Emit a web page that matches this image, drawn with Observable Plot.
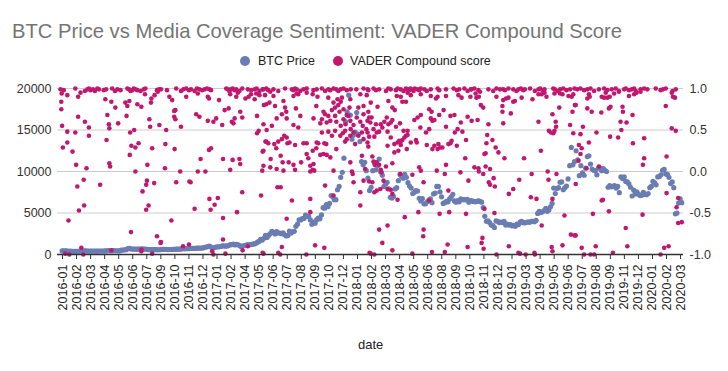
<!DOCTYPE html>
<html>
<head>
<meta charset="utf-8">
<script src="https://cdn.jsdelivr.net/npm/d3@7"></script>
<script src="https://cdn.jsdelivr.net/npm/@observablehq/plot@0.6"></script>
<style>
  html, body { margin: 0; padding: 0; background: #fff; }
  #wrap { position: relative; width: 728px; height: 371px; overflow: hidden; font-family: "Liberation Sans", Arial, sans-serif; }
  #title { position: absolute; left: 12px; top: 20px; font-size: 20.2px; color: #757575; white-space: nowrap; }
  .leg { position: absolute; top: 54px; font-size: 12.5px; color: #222; white-space: nowrap; }
  .sw { position: absolute; top: 56px; width: 10px; height: 10px; border-radius: 50%; }
  #xlabel { position: absolute; top: 337px; left: 358px; font-size: 13px; color: #222; }
  #chart { position: absolute; left: 0; top: 0; }
</style>
</head>
<body>
<div id="wrap">
  <div id="chart"></div>
  <div id="title">BTC Price vs Media Coverage Sentiment: VADER Compound Score</div>
  <div class="sw" style="left:240px;background:#6a7db3"></div>
  <div class="leg" style="left:258px">BTC Price</div>
  <div class="sw" style="left:333px;background:#c2176f"></div>
  <div class="leg" style="left:350px">VADER Compound score</div>
  <div id="xlabel">date</div>
</div>
<script>
// ---- Data ----
const seriesStart = "2016-01-01";
const xTickLabels = ["2016-01","2016-02","2016-03","2016-04","2016-05","2016-06","2016-07","2016-09","2016-10","2016-11","2016-12",
  "2017-01","2017-02","2017-04","2017-05","2017-06","2017-07","2017-08","2017-09","2017-10","2017-12",
  "2018-01","2018-02","2018-03","2018-04","2018-05","2018-06","2018-08","2018-09","2018-10","2018-11","2018-12",
  "2019-01","2019-03","2019-04","2019-05","2019-06","2019-07","2019-08","2019-09","2019-11","2019-12",
  "2020-01","2020-02","2020-03"];
const leftTicks = [0, 5000, 10000, 15000, 20000];
const rightTickLabels = ["-1.0", "-0.5", "0.0", "0.5", "1.0"];

// BTC price (USD), one reading every 4 days starting 2016-01-01
const btc2016 = [434,433,449,432,387,410,392,379,374,377,383,406,422,438,432,435,397,413,413,417,412,417,416,420,422,421,424,428,446,466,
  448,446,458,454,454,442,445,526,536,574,574,700,750,667,665,640,660,640,650,665,672,655,655,624,578,591,587,581,581,579,
  573,572,610,623,608,607,597,601,605,610,617,641,638,636,657,682,700,703,711,705,744,730,739,735,772,759,773,780,790,864,896,960];
const btc2017 = [1020,895,780,820,900,925,920,965,1035,1055,1000,1035,1080,1180,1190,1265,1150,1230,1175,1050,935,1045,1085,1130,1190,1170,1200,1250,1280,1350,
  1480,1580,1820,1740,1960,2300,2050,2330,2520,2800,2660,2480,2760,2590,2580,2500,2610,2380,2230,2300,2830,2580,2740,2800,3400,3650,4180,4160,4320,4350,
  4750,4600,4600,4160,3630,3900,3780,4200,4400,4300,4770,5640,5580,6000,5750,6150,7100,6950,6600,6600,7800,8200,9300,9900,11600,16000,17200,19200,16800,13900,14400];
const btc2018 = [14750,17100,14500,13600,11200,10800,11100,10100,9200,7700,8100,10100,11100,10200,10700,11500,9950,9550,8200,8500,8700,7900,6900,6800,7000,7900,8050,8900,9650,9400,
  9200,9650,9300,8650,8250,8000,7350,7500,7700,7650,6780,6450,6750,6100,6100,6350,6550,6700,6250,7300,7400,8200,8200,7550,6950,6150,6250,6400,6350,6700,
  6950,7250,6450,6300,6500,6350,6700,6600,6600,6590,6650,6300,6500,6450,6400,6350,6400,6450,6400,6300,5650,4600,4000,4050,3850,3550,3480,3250,4050,4000,3850];
const btc2019 = [3900,3850,4000,3550,3650,3550,3600,3450,3500,3400,3650,3600,3900,3980,3830,3820,3880,3920,3880,4000,3990,3950,4100,4950,5200,5050,5150,5300,5550,5200,
  5350,5750,6150,8000,7350,7950,8050,8700,8750,7800,8050,8250,9100,10700,12900,10800,11200,12500,11400,9500,10700,9850,9550,10400,11800,11900,10900,10300,10150,10100,
  9600,10400,10400,10100,10350,10150,10000,8100,8300,8150,8200,8300,8000,8200,7450,9350,9150,9350,8800,8750,8500,8100,7050,7750,7300,7550,7250,7100,7150,7500,7250,7200];
const btc2020 = [7350,8050,8200,8800,8650,8400,9350,9400,9600,10150,10250,9700,9650,9300,8550,8750,8050,4900,5000,6200,6700,6250];

// VADER compound score per article: [day offset from 2016-01-01, score]
const vader2016 = [
  [-4,.99],[4,.98],[33,1],[57,.97],[63,.99],[67,1],[71,.98],[77,.99],[82,.97],[88,1],[92,.99],[104,.98],[110,.99],[125,1],[132,.97],[138,.99],[146,.98],[163,1],[167,.99],[171,.97],[175,.98],[179,1],[183,.99],[188,.98],[196,.97],[204,.99],[208,1],[237,.98],[242,.99],
  [247,.99],[262,.98],[285,1],[297,.97],[303,.99],[310,1],[317,.98],[322,.99],[331,.97],[337,1],[343,.99],[350,.98],[356,.99],[362,1],
  [-1,.94],[13,.92],[46,.95],[40,.90],[-2,.84],[-2,.75],[108,.87],[123,.84],[133,.77],[158,.83],[163,.79],[168,.85],[188,.81],[198,.78],[207,.93],[223,.88],[222,.83],[231,.92],[239,.96],
  [40,.66],[57,.60],[67,.53],[0,.55],[113,.68],[117,.57],[118,.52],[140,.58],[161,.67],[218,.63],[220,.54],[243,.56],
  [13,.48],[33,.47],[67,.43],[170,.47],[180,.50],
  [111,.38],[13,.35],[2,.29],[26,.24],[173,.31],[183,.29],[191,.34],[225,.28],[169,.20],
  [35,.08],[61,.04],[118,.10],[120,.06],[183,0],[213,.08],
  [54,-.10],[38,-.18],[95,-.16],[212,-.11],[210,-.16],[230,-.14],[201,-.24],
  [55,-.41],[42,-.47],[216,-.41],[210,-.46],
  [16,-.59],[172,-.73],[237,-.78],[246,-.86],
  [48,-.92],[123,-.95],[198,-.94],[198,-.96],[8,-.99],[18,-1],[53,-1],[225,-.99],
  [268,.90],[275,.86],[310,.90],[339,.94],[364,.90],
  [283,.74],[280,.73],[280,.66],[283,.63],[335,.69],[343,.66],[364,.61],
  [297,.54],[260,.50],[258,.33],[281,.27],
  [346,.15],[257,.04],[295,0],[339,0],[358,0],
  [285,-.13],[318,-.12],[321,-.13],[331,-.45],[273,-.59],
  [247,-.85],[302,-.90],[317,-.88]
];
const vader2017 = [
  [368,.99],[372,.98],[410,1],[414,.99],[418,.97],[422,.99],[426,1],[431,.98],[435,.99],[443,.97],[450,1],[464,.99],[472,.98],[481,.99],[486,1],[493,.97],[501,.99],
  [503,.99],[510,1],[515,.98],[528,.99],[540,.97],[557,1],[574,.99],[578,.98],[582,1],[586,.99],[595,.97],[603,.99],[611,1],[628,.98],[636,.99],[649,1],[657,.97],[665,.99],[670,.98],[678,1],[685,.99],[690,.97],[696,.99],[703,1],[711,.98],[721,.99],
  [367,.88],[392,.86],[420,.93],[435,.90],[439,.95],[458,.88],[466,.90],[472,.93],[481,.87],[485,.94],[493,.92],[504,.80],
  [378,.60],[385,.64],[400,.56],[406,.74],[416,.76],[424,.60],[428,.58],[431,.64],[445,.72],[450,.65],[487,.67],
  [491,.49],[487,.46],[508,.36],[367,.26],[372,.28],[501,.24],
  [402,.15],[426,.14],[443,.15],[445,.09],[420,.02],[500,.01],
  [450,-.25],[497,-.29],[368,-.33],[389,-.32],[381,-.40],[371,-.46],[437,-.49],
  [402,-.56],[402,-.82],[464,-.90],[375,-.96],[378,-1],[408,-.99],[451,-.95],[501,-.98],
  [507,.92],[520,.96],[528,.91],[510,.81],[518,.83],[532,.79],[553,.85],[557,.77],[578,.91],[586,.94],[590,.93],[584,.76],[611,.95],[626,.93],[638,.90],[635,.79],[665,.89],[678,.83],[682,.77],[688,.87],[690,.80],[699,.89],[696,.84],[703,.75],[720,.87],[718,.77],[715,.67],
  [503,.57],[511,.50],[524,.55],[536,.64],[549,.69],[560,.72],[561,.64],[578,.56],[590,.53],[595,.67],[628,.64],[645,.58],[653,.72],[649,.63],[657,.69],[661,.59],[665,.67],[670,.61],[674,.74],[682,.67],[685,.60],[693,.72],[696,.55],[703,.63],[708,.57],[711,.68],[720,.61],[721,.51],[728,.56],
  [649,.47],[665,.48],[674,.43],[682,.49],[695,.43],[701,.46],[707,.49],[711,.39],[720,.43],[728,.47],
  [510,.36],[515,.34],[530,.33],[535,.28],[540,.36],[549,.39],[555,.43],[561,.41],[563,.34],[568,.35],[582,.32],[603,.34],[611,.34],[636,.35],[640,.34],[655,.34],[660,.33],
  [503,.25],[521,.15],[546,.19],[551,.11],[566,.11],[578,.08],[582,.02],[597,.11],[611,.21],[615,.16],[620,.07],[626,.25],[628,.09],[635,.28],[645,.20],[653,.21],[661,.20],[670,.17],[678,.01],[685,.27],[707,.36],[720,.11],[724,0],[726,-.03],
  [503,.07],[520,.05],[536,.03],[553,.01],[620,0],[626,.02],[630,.01],
  [657,-.17],[728,-.13],[538,-.19],[546,-.19],[574,-.35],[620,-.33],[678,-.29],
  [561,-.57],[620,-.49],[632,-.89],[655,-.92],[549,-.91],[503,-.99],[540,-.98],[545,-1],[610,-1]
];
const vader2018 = [
  [735,.99],[753,1],[765,.98],
  [740,.77],[745,.93],[753,.79],[761,.92],[736,.65],[745,.60],[751,.55],[753,.69],[763,.61],[765,.72],
  [732,.33],[740,.43],[749,.47],[753,.39],[760,.51],[749,.19],[757,.03],[745,-.25],[753,-.11],[745,-.41],[768,-.98],
  [763,.99],[778,1],[784,.98],[792,.99],[809,.97],[815,1],[821,.99],[834,.98],[838,1],[846,.99],[853,.97],[859,1],[863,.99],[867,.98],[870,1],[873,.99],[878,.97],[881,1],[888,.99],[892,.98],[896,1],[905,.99],[911,.97],[921,.99],[938,1],[942,.98],[959,.99],[978,1],[986,.98],[992,.99],[1005,1],[1013,.97],[1021,.99],
  [836,.91],[846,.90],[863,.95],[871,.92],[896,.93],[921,.91],[934,.88],[938,.90],[959,.91],[990,.92],[998,.89],[1020,.90],
  [771,.83],[788,.78],[815,.85],[850,.84],[859,.84],[825,.77],[831,.74],[917,.75],[923,.72],
  [880,.62],[888,.65],[896,.68],[921,.64],[925,.61],[930,.62],[953,.74],[942,.68],[970,.67],[980,.68],[996,.59],[1013,.66],[1023,.61],
  [767,.65],[773,.65],[770,.59],[778,.51],[784,.57],[796,.57],[800,.53],[805,.60],[811,.65],[815,.57],[821,.59],[825,.62],[834,.54],[844,.58],
  [792,.48],[763,.47],[767,.42],[780,.42],[786,.47],[813,.48],[821,.41],[830,.33],[838,.35],[842,.37],[846,.36],[850,.38],[855,.41],[859,.43],[863,.44],[846,.32],[853,.49],[863,.49],
  [884,.38],[886,.35],[895,.53],[909,.47],[911,.32],[917,.51],[925,.27],[930,.31],[938,.27],[940,.33],[945,.29],[950,.29],[959,.54],[965,.33],[970,.34],[973,.37],[981,.47],[986,.31],[988,.51],[1000,.48],[1009,.38],
  [763,.35],[765,.30],[813,.31],[830,.23],[840,.25],[861,.27],[871,.35],
  [775,.18],[778,.12],[781,.08],[786,.11],[792,.08],[796,.02],[798,-.01],[809,.06],[825,.10],[845,-.03],[875,-.04],[892,.05],[896,.01],[936,.01],[956,-.03],[959,.08],[995,-.01],[1007,.16],[1015,-.11],
  [767,-.12],[775,-.13],[780,-.25],[786,-.23],[795,-.21],[803,-.11],[813,-.21],[821,-.22],[825,-.27],[838,-.34],[903,-.13],[917,-.35],[965,-.23],
  [856,-.55],[890,-.49],[943,-.51],[967,-.49],[1009,-.51],
  [792,-.70],[813,-.65],[903,-.70],[902,-.78],[800,-.86],[825,-.95],[875,-.99],[924,-.97],[956,-.97],[963,-.88],[1013,-.91],[771,-.99],[780,-1],
  [1023,.99],[1030,1],[1040,.98],[1065,.99],[1077,.97],[1085,1],[1094,.99],
  [1033,.94],[1044,.96],[1035,.89],[1041,.90],[1085,.90],[1046,.80],[1052,.77],[1038,.62],[1065,.57],[1062,.44],[1075,.38],[1060,.34],[1083,.29],[1090,.23],[1058,.22],[1055,.21],
  [1030,.05],[1040,.04],[1041,0],[1052,-.03],[1058,.06],[1069,.03],[1078,-.08],[1066,-.13],[1069,-.16],[1081,-.18],[1055,-.45],[1080,-.50],[1050,-.80],[1048,-.86],[1053,-.93],[1085,-1]
];
const vader2019 = [
  [1102,.99],[1106,.98],[1115,1],[1127,.99],[1135,.97],[1140,.99],[1146,1],[1152,.98],[1156,.99],[1169,1],[1181,.97],[1190,.99],[1194,1],[1200,.98],[1205,.99],[1227,1],[1231,.99],[1238,.97],[1244,.99],[1252,1],[1260,.98],[1269,.99],[1280,1],
  [1102,.86],[1109,.88],[1115,.89],[1127,.84],[1131,.85],[1148,.89],[1175,.87],[1190,.93],[1198,.93],[1205,.95],[1210,.90],[1230,.94],[1244,.94],[1250,.93],[1265,.91],[1273,.90],[1277,.93],[1281,.80],
  [1100,.79],[1100,.72],[1121,.70],[1225,.69],[1242,.77],[1275,.72],[1102,.58],[1190,.60],[1233,.60],[1234,.54],[1269,.56],[1216,.49],[1221,.47],[1227,.46],[1230,.49],[1277,.46],
  [1105,.16],[1154,.16],[1196,.25],[1173,-.03],[1142,-.10],[1213,0],[1215,-.10],[1235,-.03],[1127,-.21],[1116,-.27],[1171,-.31],[1185,-.33],[1225,-.33],
  [1198,-.65],[1255,-.53],[1271,-.76],[1280,-.77],[1116,-.90],[1223,-.91],[1225,-.96],[1250,-.89],[1140,-.98],[1144,-.99],[1158,-1],[1180,-.98],[1181,-1],
  [1287,.99],[1295,1],[1304,.98],[1312,.99],[1320,1],[1329,.97],[1341,.99],[1354,1],[1362,.98],[1373,.99],[1383,1],[1391,.97],[1404,.99],[1408,1],[1416,.98],[1423,.99],[1429,1],[1433,.97],[1445,.99],[1454,1],
  [1312,.88],[1318,.90],[1316,.93],[1348,.90],[1354,.89],[1362,.89],[1368,.90],[1358,.95],[1379,.94],[1391,.96],[1416,.91],[1429,.93],[1435,.95],[1445,.96],
  [1283,.80],[1312,.76],[1323,.72],[1347,.71],[1366,.76],[1370,.78],[1400,.78],[1401,.72],[1425,.68],[1395,.60],[1410,.59],
  [1301,.54],[1335,.47],[1295,.45],[1369,.42],[1389,.41],[1397,.50],[1454,.40],[1316,.35],[1291,.32],[1426,.34],[1298,.28],[1295,.21],[1290,.13],[1454,.16],[1451,.08],[1341,.06],[1310,.04],
  [1283,-.15],[1351,-.34],[1348,-.35],[1366,-.48],[1326,-.51],[1450,-.52],[1283,-.77],[1408,-.68],[1298,-.92],[1333,-.90],[1412,-.90],[1304,-1],[1320,-1],[1329,-1],[1376,-.98]
];
const vader2020 = [
  [1462,.99],[1483,1],[1495,.98],[1501,.99],[1508,1],[1525,.97],[1533,.99],
  [1523,.95],[1526,.90],[1531,.89],[1508,.79],[1523,.52],[1533,.49],[1510,.18],[1510,-.26],[1539,-.32],[1535,-.43],[1539,-.62],[1548,-.61],[1515,-.90],[1504,-.92],[1495,-1]
];

// ---- Build tables ----
const DAY = 864e5;
const t0 = Date.parse(seriesStart + "T00:00:00Z");
const btc = [...btc2016, ...btc2017, ...btc2018, ...btc2019, ...btc2020]
  .map((price, i) => ({date: new Date(t0 + i * 4 * DAY), price}));
const vader = [...vader2016, ...vader2017, ...vader2018, ...vader2019, ...vader2020]
  .map(([day, score]) => ({date: new Date(t0 + day * DAY), score}));

// category-style axis: labels spaced evenly along the series
const tickDates = xTickLabels.map((_, i) => new Date(t0 + (1 + i * 35.09) * DAY));
const labelByTime = new Map(tickDates.map((d, i) => [+d, xTickLabels[i]]));
const toLeft = s => (s + 1) * 10000; // secondary axis (-1..1) onto primary (0..20000)

const chart = Plot.plot({
  width: 728,
  height: 371,
  marginLeft: 57,
  marginRight: 45,
  marginTop: 88,
  marginBottom: 117,
  x: {type: "utc", domain: [new Date(t0 - 11.5 * DAY), new Date(t0 + 1552.3 * DAY)]},
  y: {domain: [0, 20000]},
  style: {fontFamily: "'Liberation Sans', Arial, sans-serif", fontSize: "12px", color: "#333", background: "transparent", overflow: "visible"},
  marks: [
    Plot.gridY(leftTicks, {stroke: "#cccccc", strokeOpacity: 1}),
    Plot.axisY({ticks: leftTicks, tickFormat: d3.format("d"), tickSize: 0, tickPadding: 6, label: null, fontSize: 12.5, fill: "#333"}),
    Plot.axisY({anchor: "right", ticks: leftTicks, tickFormat: d => rightTickLabels[leftTicks.indexOf(d)], tickSize: 0, tickPadding: 6, label: null, fontSize: 12.5, fill: "#333"}),
    Plot.axisX({ticks: tickDates, tickFormat: d => labelByTime.get(+d), tickRotate: -90, tickSize: 5, tickPadding: 5, label: null, fontSize: 12.5, fill: "#222", stroke: "#333"}),
    Plot.dot(btc, {x: "date", y: "price", r: 2.6, fill: "#6a7db3"}),
    Plot.dot(vader, {x: "date", y: d => toLeft(d.score), r: 2.3, fill: "#c2176f"}),
    Plot.ruleY([0], {stroke: "#333", strokeWidth: 1.5})
  ]
});
document.getElementById("chart").appendChild(chart);
</script>
</body>
</html>
